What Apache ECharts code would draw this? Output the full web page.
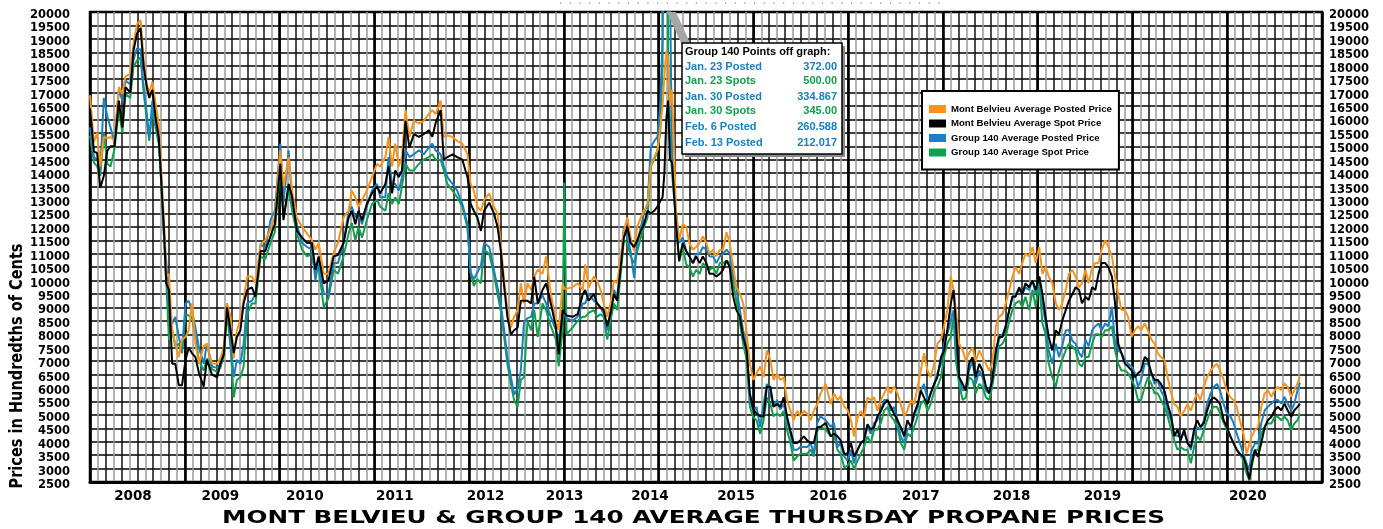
<!DOCTYPE html>
<html>
<head>
<meta charset="utf-8">
<script src="https://cdn.jsdelivr.net/npm/echarts@6/dist/echarts.min.js"></script>
<style>html,body{margin:0;padding:0;background:#fff}#chart{width:1383px;height:529px}</style>
</head>
<body>
<div id="chart"></div>
<script>
// ---------------- DATA ----------------
// x position of each reading: months since January 2008
const months = [
0.0,0.5,0.9,1.3,1.75,2.2,2.6,3.1,3.65,4.1,4.5,5.1,5.5,5.95,6.4,6.8,7.2,7.5,7.9,8.3,8.7,8.9,9.35,9.65,10.0,10.4,10.8,11.25,11.65,
12.1,12.5,12.9,13.35,13.8,14.4,14.8,15.45,16.1,16.5,16.95,17.35,17.8,18.2,18.6,19.05,19.45,19.9,20.5,20.95,21.6,22.2,22.85,23.4,
24.1,24.5,25.15,25.6,26.2,26.85,27.5,28.1,28.55,28.95,29.6,30.2,30.85,31.4,32.1,32.75,33.15,33.6,34.0,34.45,35.05,35.7,
36.35,36.75,37.4,37.8,38.25,38.65,39.1,39.5,39.95,40.45,41.0,41.65,42.25,42.9,43.35,43.75,44.4,44.8,45.25,45.9,46.5,47.15,47.8,
48.2,48.6,49.05,49.5,49.9,50.55,51.15,51.6,52.0,52.4,52.85,53.3,53.7,54.15,54.55,54.95,55.4,55.85,56.25,56.7,57.3,57.75,58.35,59.0,59.35,59.85,
60.05,60.35,61.1,61.75,62.4,62.7,63.15,63.8,64.2,64.65,65.05,65.5,65.9,66.35,66.75,67.2,67.6,68.05,68.45,68.9,69.3,69.75,70.15,70.6,71.0,71.45,71.85,
72.2,72.5,72.73,72.97,73.2,73.43,73.7,74.2,74.6,75.05,75.5,75.9,76.35,76.75,77.2,77.6,78.05,78.45,78.9,79.3,79.75,80.15,80.6,81.0,81.45,81.85,82.3,82.7,83.15,83.55,
84.0,84.4,84.85,85.3,85.7,86.15,86.55,87.0,87.4,87.85,88.25,88.7,89.1,89.55,89.95,90.4,90.8,91.25,91.65,92.1,92.5,93.15,93.8,94.2,94.65,95.05,95.5,95.9,
96.35,96.75,97.2,97.6,98.0,98.45,98.85,99.3,99.7,100.15,100.55,101.0,101.4,101.8,102.25,102.65,103.1,103.5,103.95,104.35,104.8,105.2,105.6,106.05,106.45,106.9,107.3,107.75,
108.15,108.55,109.0,109.35,109.65,110.05,110.5,110.9,111.3,111.75,112.15,112.6,113.0,113.45,113.85,114.25,114.7,115.1,115.55,115.95,116.4,116.8,117.2,117.65,118.05,118.45,118.9,119.35,119.75,
120.2,120.6,121.0,121.4,121.85,122.3,122.7,123.1,123.55,123.95,124.4,124.8,125.25,125.6,126.05,126.45,126.9,127.3,127.7,128.1,128.55,128.95,129.4,129.8,130.2,130.6,131.05,131.45,131.9,
132.3,132.7,133.1,133.55,133.95,134.4,134.8,135.2,135.6,136.05,136.45,136.9,137.3,137.7,138.1,138.55,138.95,139.4,139.8,140.2,140.6,141.05,141.45,141.9,142.3,142.7,143.1,143.55,143.95,
144.4,144.8,145.2,145.6,146.05,146.45,146.8,147.1,147.5,147.9,148.3,148.75,149.15,149.6,150.0,150.4,150.85,151.25,151.65,152.1,152.5,152.9,153.2
];

// Mont Belvieu Average Posted Price (hundredths of cents)
const mbPosted = [
16900,15150,15500,14250,15350,15300,15350,15200,17200,16950,17600,17700,18800,19550,19700,18200,17300,17000,17400,16600,15850,14850,12350,10150,10250,8150,7650,7150,7800,
7900,8150,9150,7650,6900,7550,7650,6900,6900,7100,7550,9150,8650,7100,8150,8550,9300,10150,10150,9900,11350,11500,11900,12350,
14850,13500,14600,13350,12350,12000,11750,11500,11150,11400,10250,10250,11050,11400,12350,12600,13350,13100,12750,13000,13350,13850,
14350,14250,14600,15350,14250,15100,14250,14600,16350,15350,15950,15850,15950,16200,16350,16200,16700,15350,15400,15350,15200,15100,14700,
13600,13350,12750,12600,13000,13250,12750,12500,11400,10150,8900,8250,8650,8900,9900,9150,9900,9650,10150,10400,10250,10900,9500,8500,8150,9900,
9700,9700,9750,9900,9650,10600,9750,10150,10000,9650,9150,8650,9150,10000,9900,10900,11850,12350,11600,11100,12000,12350,12600,12850,14250,14600,14850,
15700,16500,17600,18550,18300,16500,17100,12600,11500,12100,12000,11400,11150,11250,11400,11650,11400,11000,11150,10900,11150,11150,11800,11400,10500,9750,9500,9150,8050,6900,
6300,6550,6800,6400,7400,7050,6300,6550,6300,6400,5550,5150,4800,5150,4950,5150,5050,4800,5150,5400,5800,6150,5400,5800,5550,5700,5300,5200,
4800,4200,4900,5150,4900,5650,5550,5650,5150,5550,5800,6050,5800,6050,5800,5400,4950,5150,5550,5400,6050,6650,7300,6650,6400,6900,7650,7800,
8300,8900,10150,9650,8900,7650,7400,7000,7300,7500,7000,7400,7150,6900,6650,6900,8300,8650,8750,9150,9650,10150,10500,10250,10650,11000,10900,11250,10650,
11250,10250,10500,10150,9900,9150,8900,9150,9650,10250,10400,10150,9750,9900,10400,9900,10500,10650,10650,11150,11500,11250,10900,10150,9500,8900,8900,8650,7900,
8150,8300,8150,8400,8150,7800,7650,7300,7150,7050,6400,5800,5400,5300,4950,5150,5400,5150,5550,5800,5550,6050,6400,6650,6800,6900,6650,6300,5900,
5650,5550,5300,4800,4300,3560,3900,4200,4430,4550,5300,5800,5920,5670,5920,6040,5920,6170,6040,5670,5920,6170,6400
];

// Mont Belvieu Average Spot Price
const mbSpot = [
16400,14800,14750,13450,13900,14850,15000,15000,16700,15700,17200,17000,18550,19200,19400,17950,17200,16800,17100,16100,15350,14350,12000,9900,9650,6900,6900,6100,6100,
7050,7500,7300,7150,6550,6050,7050,6500,6400,6900,7250,9000,8150,7300,7900,8150,9150,9650,9750,9400,11100,11100,11650,12100,
14350,12250,13600,13100,11850,11600,11400,11400,10400,10900,9900,10000,10900,10950,11400,12350,12600,12100,12600,12250,12850,13250,
13500,13250,13600,14250,13250,14100,13850,14100,15950,14950,15450,15350,15450,15600,15350,15850,16350,14500,14600,14700,14600,14500,13850,
12850,12600,12350,11850,12600,12900,12500,12000,11150,9900,8650,8000,8150,8250,9250,9250,9250,9150,10150,9150,9650,9900,9150,8250,7250,8900,
8800,8700,8650,8750,9500,9650,9250,9500,9150,9000,8900,8300,8750,9500,9250,10500,11600,12000,11400,11250,11500,11850,12100,12600,12500,12600,12750,
12950,13100,14000,16000,16700,14500,14400,12100,10750,11400,11100,10900,10650,10900,10650,10900,10650,10250,10250,10150,10250,10400,10750,10500,9400,8900,8650,7900,7400,5800,
5200,5050,4950,4950,6050,6050,5300,5400,5300,5650,4950,4400,3950,3950,4050,4200,4050,3950,3950,4550,4550,4700,4200,4300,4200,4050,3550,3550,
3950,3450,3700,3950,4050,4650,4450,4550,4950,5150,5400,5550,5300,5050,4800,4550,4200,4800,4550,5050,5400,5900,5650,5400,5800,6150,6400,7150,
7400,8150,9150,9650,8400,6400,6150,5900,6900,7150,6400,6900,6650,6050,5800,6300,7400,7900,7900,8300,8900,9400,9400,9750,9500,9900,9750,10000,9650,
10150,9500,8650,7900,7400,8150,8000,8500,8900,9250,9500,9750,9650,9150,9400,9270,9750,9650,10250,10650,10650,10500,10150,9150,7650,7300,6900,6800,6650,
6400,6550,6650,7150,7050,6550,6300,6300,6150,5900,5400,4950,4200,4450,4050,4450,3950,3800,4450,4800,4550,4700,5150,5550,5650,5550,5400,4800,4550,
4200,3950,3700,3550,3450,3060,2600,3190,3690,3440,3930,4550,4800,4930,5170,5300,5170,5420,5170,4930,5170,5300,5420
];

// Group 140 Average Posted Price
const g140Posted = [
15700,14600,14500,14100,16800,16100,15700,15100,17100,16700,17450,17300,18200,18650,18600,17200,16200,15300,16700,15850,15250,14400,11800,10750,8900,8400,8650,7900,7400,
9150,9250,8900,8250,7500,6900,7650,6800,6750,6900,7400,9150,7650,6400,7050,6900,7650,9150,9250,9500,11350,11200,12250,12600,
15100,12900,14850,12900,12100,11400,11250,11150,10000,10750,9500,9500,10650,10650,11400,12600,12750,12350,12500,12100,12750,13350,
13600,13100,13100,14600,13600,13600,13350,13850,14850,14600,14700,14850,14700,14950,15100,14850,14700,14250,13850,13600,13350,12850,12100,
10300,10050,10300,10550,11400,11250,10400,9750,9150,8250,7150,6400,5750,6000,6650,8450,8600,8650,9150,9150,9450,9150,8650,8150,7700,8900,
8750,8600,8500,8650,9150,9150,9500,9250,9150,9000,8750,8150,8900,9650,9400,10650,12000,11600,11100,10100,11400,12000,12500,12850,14950,15200,15350,
16500,19000,37200,33487,26059,21202,14500,12600,11400,11600,11100,10900,10650,11000,11000,11250,11150,10900,10900,10650,10900,11000,11150,11000,10150,9750,8900,8150,7550,5550,
5150,5300,4550,5400,6150,5800,5300,5550,5200,5400,4800,4300,3700,3700,3800,3800,3800,3950,3550,4700,4950,4800,4550,4700,3800,3950,3450,3300,
3700,3200,3700,3950,4050,4550,4300,4700,4800,5150,5550,5550,5150,5300,4800,4200,3950,4450,4550,4950,5300,5900,6150,5550,5800,6150,6550,6900,
7650,8000,8500,8900,7650,6400,5900,6000,6650,7000,6150,6650,6400,5900,5800,6400,7150,7800,8000,8300,8900,9400,9500,9650,9500,9750,9650,10000,9500,
10150,9150,8400,7400,6900,7650,7150,7550,8150,8150,7750,7650,7300,7150,7800,7550,8150,8300,8400,8150,8400,8300,9020,7650,7400,7300,7050,6900,6800,
6550,6050,6300,6900,6900,6550,6150,6300,5900,5650,5150,4800,4300,4200,4200,4300,4050,3700,4300,4550,4450,4800,5400,5800,6050,6150,5900,5400,5050,
4950,4700,4300,3950,3550,3190,2940,3690,3930,3930,4680,5170,5300,5420,5550,5550,5420,5670,5420,5170,5420,5920,6200
];

// Group 140 Average Spot Price
const g140Spot = [
15400,14400,14250,13900,15500,14350,14250,14900,16350,15500,16950,16800,17950,18200,18300,17000,15950,15200,16350,15700,15100,14300,11700,10000,7800,8150,7550,7650,7300,
8750,8700,8650,7900,7000,6650,7100,6700,6600,6750,7200,8800,7500,5650,6300,6400,6800,8750,9150,9150,10900,10800,11400,11800,
14250,12350,13400,12600,11750,11150,10900,11000,10250,10500,9000,9350,10400,10250,10900,11750,12150,11500,12000,11600,12250,12850,
13000,12750,12600,13250,12850,13100,12850,13500,14350,14100,14100,14350,14500,14600,14700,14500,14500,14100,13600,13350,13100,12750,11950,
10300,9800,10050,9900,11150,11000,10250,9500,8900,8000,6900,6150,5550,5300,6300,6400,8500,8150,8900,7900,9150,8900,8300,7800,6800,8150,
13650,8000,8250,8500,8650,8650,8800,8900,8650,8750,8650,7800,8500,9150,8900,10250,11500,11400,10900,10650,11100,11600,12000,12350,14250,14500,14850,
15500,18000,50000,34500,18500,15500,14000,12200,10700,11250,10600,10500,10150,10400,10250,10650,10500,10400,10500,10250,10650,10650,10750,10650,9900,9250,8400,7650,7050,5300,
4900,4800,4300,4800,5650,5400,4950,5050,4950,5150,4450,3950,3300,3450,3550,3550,3550,3700,3450,4400,4550,4450,4200,4300,3700,3550,3050,3100,
3300,3000,3300,3550,3800,4200,3950,4450,4450,4700,5150,5300,4950,4800,4550,3950,3700,4300,4200,4550,4950,5400,5550,5150,5400,5900,6050,6400,
7150,7650,7900,8650,7000,6150,5550,5650,6400,6300,5800,6150,6050,5650,5550,6050,6900,7550,7650,7900,8500,8900,9150,9250,9020,9400,8900,9650,9020,
9900,8400,8000,6900,6400,6050,6650,7050,7400,7650,7550,7400,6900,6800,7150,7150,7650,8000,8000,7900,8150,8150,8300,7400,6900,6650,6650,6550,6300,
6050,5550,5550,6050,6400,6150,5800,5800,5550,5300,4950,4450,4050,3700,3800,3700,3700,3200,3800,4200,4050,4450,4800,5150,5300,5300,5050,4700,4450,
4200,3950,3700,3550,3300,2820,2550,3060,3690,3690,4300,4550,4680,4680,4930,4930,4800,4930,4800,4430,4680,4800,5050
];

const seriesNames = [
  'Mont Belvieu Average Posted Price',
  'Mont Belvieu Average Spot Price',
  'Group 140 Average Posted Price',
  'Group 140 Average Spot Price'
];
const yearLabels = ['2008','2009','2010','2011','2012','2013','2014','2015','2016','2017','2018','2019','2020'];
const offGraphNotes = [
  ['Jan. 23 Posted','372.00','posted'],
  ['Jan. 23 Spots','500.00','spot'],
  ['Jan. 30 Posted','334.867','posted'],
  ['Jan. 30 Spots','345.00','spot'],
  ['Feb. 6 Posted','260.588','posted'],
  ['Feb. 13 Posted','212.017','posted']
];
const titleText = 'MONT BELVIEU & GROUP 140 AVERAGE THURSDAY PROPANE PRICES';
const yTitleText = 'Prices in Hundredths of Cents';

// ---------------- LAYOUT / STYLE ----------------
const COLORS = { mbPosted:'#f7941d', mbSpot:'#000000', g140Posted:'#1a80bf', g140Spot:'#12a04e' };
const yearLabelAt = [5.44,16.5,27.2,38.6,50.1,60.1,70.9,81.8,93.5,105.2,116.7,128.2,146.6];

function zip(vals){ return months.map((m,i)=>[m, vals[i]]); }
const ctx2d = document.createElement('canvas').getContext('2d');
function textWidth(text, font){ ctx2d.font = font; return ctx2d.measureText(text).width; }
function fitScale(text, font, target){ return target / textWidth(text, font); }
function hasFont(name){
  const probe = 'abcdefghijklmnopqrstuvwxyz MW 0123';
  return textWidth(probe, 'bold 20px monospace') !== textWidth(probe, 'bold 20px "' + name + '", monospace');
}
const yFont = 'bold 18px "DejaVu Sans"';
const tFont = 'bold 18.5px "DejaVu Sans"';
const yScale = fitScale(yTitleText, yFont, 245);
const tScale = fitScale(titleText, tFont, 943);

// legend text: condensed bold if available, sized so the first entry spans ~161px
const legendFamily = hasFont('Liberation Sans Narrow') ? 'Liberation Sans Narrow' : 'Liberation Sans';
const legendSize = Math.min(11.5, 10 * 161 / textWidth(seriesNames[0], 'bold 10px "' + legendFamily + '"'));

const mkLine = (name, data, color) => ({
  type:'line', name, data: zip(data), showSymbol:false, symbol:'none',
  lineStyle:{ width:2, color }, itemStyle:{ color }, clip:true, silent:true,
  emphasis:{ disabled:true }, z:3
});

const noteFont = 'bold 11px "Liberation Sans", Arial, sans-serif';
const noteGraphics = [
  { type:'line', shape:{ x1:560, y1:3, x2:945, y2:3 }, style:{ stroke:'#666', lineWidth:1.2, lineDash:[1.2,8.5] }, z:100 },
  { type:'polygon', shape:{ points:[[667,12],[676,12],[690,43],[681,43]] }, style:{ fill:'#a6a6a6' }, z:100 },
  { type:'rect', shape:{ x:685, y:46, width:160, height:111 }, style:{ fill:'#8a8a8a' }, z:100 },
  { type:'rect', shape:{ x:682, y:43, width:160, height:111 }, style:{ fill:'#fff', stroke:'#000', lineWidth:1.5 }, z:101 },
  { type:'text', x:685, y:52, style:{ text:'Group 140 Points off graph:', font:noteFont, fill:'#000', align:'left', verticalAlign:'middle', textAlign:'left', textVerticalAlign:'middle' }, z:102 }
];
const noteRowsY = [67.3,80.7,97.3,110.7,126.7,142.7];
offGraphNotes.forEach((n,i)=>{
  const col = n[2]==='posted' ? COLORS.g140Posted : COLORS.g140Spot;
  noteGraphics.push({ type:'text', x:685, y:noteRowsY[i], style:{ text:n[0], font:noteFont, fill:col, align:'left', verticalAlign:'middle', textAlign:'left', textVerticalAlign:'middle' }, z:102 });
  noteGraphics.push({ type:'text', x:837, y:noteRowsY[i], style:{ text:n[1], font:noteFont, fill:col, align:'right', verticalAlign:'middle', textAlign:'right', textVerticalAlign:'middle' }, z:102 });
});

// labels sit ~3px below their gridline: a 6px line box whose top is on the tick
const yLabel = { color:'#000', fontFamily:'DejaVu Sans', fontWeight:'bold', fontSize:11.5, verticalAlign:'top', lineHeight:6, formatter: v => String(v) };

const option = {
  animation:false,
  backgroundColor:'#fff',
  grid:{ left:90, top:12, right:61, bottom:47, outerBoundsMode:'none', containLabel:false, show:true, borderColor:'#000', borderWidth:2.5, backgroundColor:'transparent' },
  legend:{
    data: seriesNames, orient:'vertical', left:922, top:91,
    itemWidth:17, itemHeight:8, itemGap:2.5, icon:'rect',
    padding:[12,7,11,7], backgroundColor:'#fff', borderColor:'#000', borderWidth:2,
    selectedMode:false,
    textStyle:{ fontFamily:legendFamily, fontWeight:'bold', fontSize:legendSize, color:'#000', lineHeight:12 }
  },
  xAxis:[
    { type:'value', position:'bottom', min:0, max:156, interval:1, axisLine:{ show:true, lineStyle:{ color:'#000', width:3 } },
      axisTick:{ show:false }, axisLabel:{ show:false },
      splitLine:{ show:true, lineStyle:{ color:['#111111','#9b9b9b'], width:1.5 } } },
    { type:'value', position:'top', min:0, max:156, interval:12, axisLine:{ show:false }, axisTick:{ show:false }, axisLabel:{ show:false },
      splitLine:{ show:true, lineStyle:{ color:'#000', width:2.6 } } },
    { type:'value', position:'bottom', offset:0, min:0, max:156, axisLine:{ show:false }, axisTick:{ show:false }, splitLine:{ show:false },
      axisLabel:{ show:true, customValues: yearLabelAt, margin:7, color:'#000', fontFamily:'DejaVu Sans', fontWeight:'bold', fontSize:13.5,
        formatter: v => { let b=0; yearLabelAt.forEach((p,i)=>{ if(Math.abs(p-v)<Math.abs(yearLabelAt[b]-v)) b=i; }); return yearLabels[b]; } } }
  ],
  yAxis:[
    { type:'value', min:2500, max:20000, interval:500, position:'left',
      axisLine:{ show:false }, axisTick:{ show:false },
      axisLabel:Object.assign({ margin:20 }, yLabel),
      splitLine:{ show:true, lineStyle:{ color:'#000', width:1.5 } } },
    { type:'value', min:2500, max:20000, interval:500, position:'right',
      axisLine:{ show:false }, axisTick:{ show:false },
      axisLabel:Object.assign({ margin:7 }, yLabel),
      splitLine:{ show:false } }
  ],
  series:[
    mkLine(seriesNames[3], g140Spot, COLORS.g140Spot),
    mkLine(seriesNames[2], g140Posted, COLORS.g140Posted),
    mkLine(seriesNames[0], mbPosted, COLORS.mbPosted),
    mkLine(seriesNames[1], mbSpot, COLORS.mbSpot)
  ],
  graphic:[
    { type:'text', x:17, y:366, rotation:Math.PI/2, scaleX:yScale, scaleY:1,
      style:{ text:yTitleText, font:yFont, fill:'#000', align:'center', verticalAlign:'middle', textAlign:'center', textVerticalAlign:'middle' }, z:100 },
    { type:'text', x:693.5, y:518, scaleX:tScale, scaleY:1,
      style:{ text:titleText, font:tFont, fill:'#000', align:'center', verticalAlign:'middle', textAlign:'center', textVerticalAlign:'middle' }, z:100 }
  ].concat(noteGraphics)
};

const chart = echarts.init(document.getElementById('chart'), null, { renderer:'canvas' });
chart.setOption(option);
</script>
</body>
</html>
